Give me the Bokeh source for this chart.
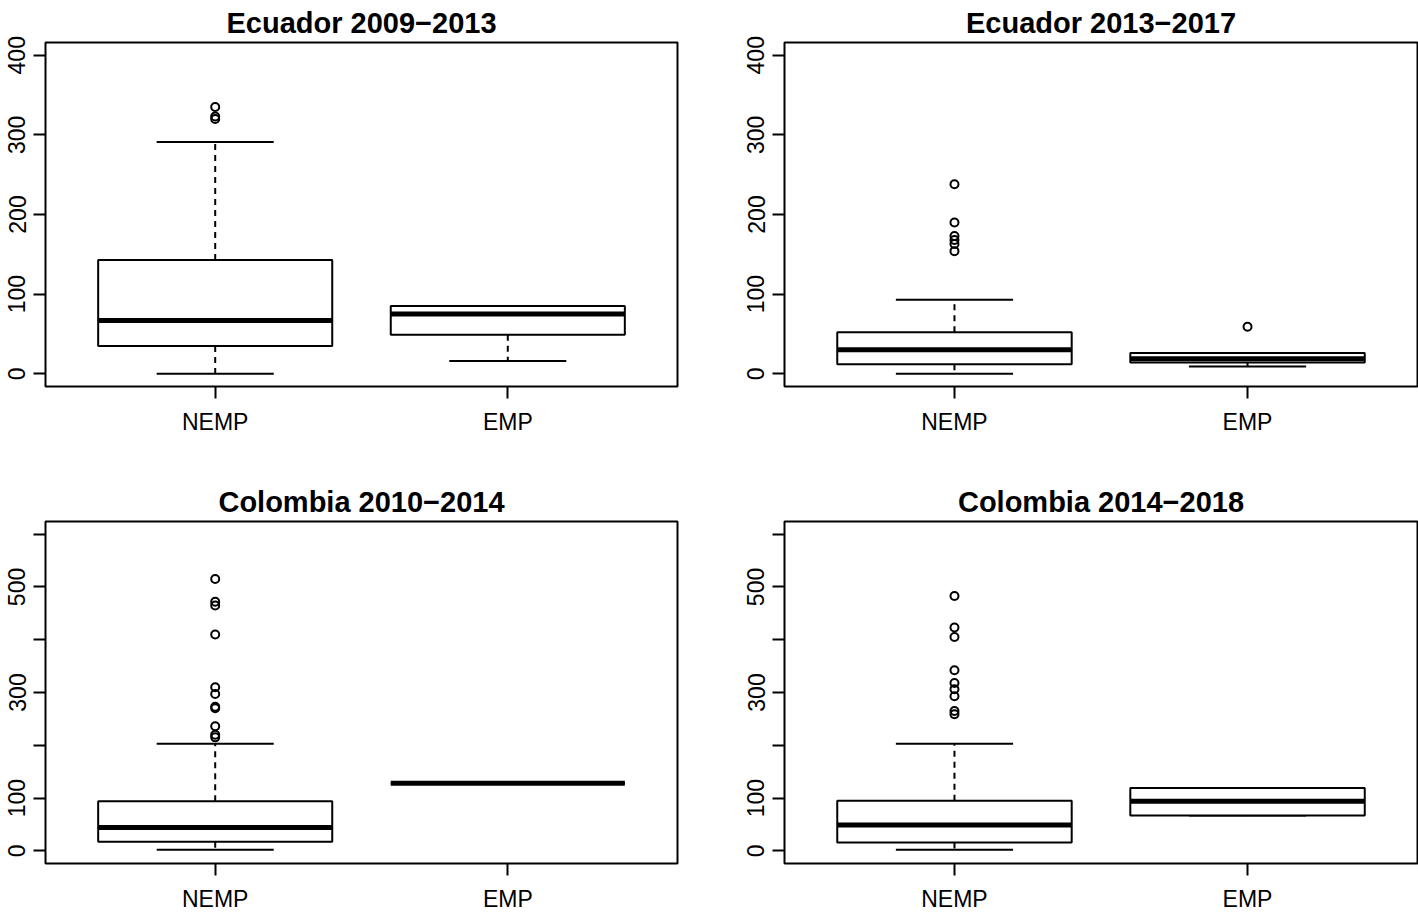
from bokeh.plotting import figure
from bokeh.layouts import column, row
from bokeh.models import FixedTicker
from bokeh.embed import file_html
from bokeh.resources import INLINE

# ---------------- data ----------------
groups = ["NEMP", "EMP"]
positions = [1, 2]

titles = ["Ecuador 2009\u22122013", "Ecuador 2013\u22122017",
          "Colombia 2010\u22122014", "Colombia 2014\u22122018"]

# per panel: [NEMP, EMP]
low_whisker = [[0, 16], [0, 9], [2, 128], [2, 67]]
q1 = [[35, 49], [12, 14], [17, 128], [16, 67]]
median = [[67, 75], [30, 19], [44, 128], [49, 94]]
q3 = [[143, 85], [52, 26], [94, 128], [95, 119]]
up_whisker = [[291, 85], [93, 26], [203, 128], [203, 119]]

outliers_nemp = [
    [320, 323, 335],
    [154, 163, 168, 173, 190, 238],
    [215, 220, 236, 270, 273, 297, 310, 410, 465, 472, 515],
    [259, 265, 293, 306, 318, 342, 405, 423, 483],
]
outliers_emp = [[], [59], [], []]

y_ticks_top = [0, 100, 200, 300, 400]
y_ticks_bottom = [0, 100, 200, 300, 400, 500, 600]
y_labels_bottom = ["0", "100", "", "300", "", "500", ""]
y_limits = [(-16, 416), (-16, 416), (-24, 624), (-24, 624)]

FONT = "Liberation Sans"


def make_panel(i, border_left, border_right, border_top, frame_w, frame_h, border_bottom):
    p = figure(
        frame_width=frame_w, frame_height=frame_h,
        x_range=(0.42, 2.58), y_range=y_limits[i],
        output_backend="svg", toolbar_location=None,
        min_border_left=border_left, min_border_right=border_right,
        min_border_top=border_top, min_border_bottom=border_bottom,
        background_fill_color="white", border_fill_color="white",
    )
    p.title.text = titles[i]
    p.title.align = "center"
    p.title.text_font = FONT
    p.title.text_font_size = "29px"
    p.title.text_font_style = "bold"
    p.title.text_color = "black"
    p.title.standoff = 8

    p.xgrid.visible = False
    p.ygrid.visible = False
    p.outline_line_color = "black"
    p.outline_line_width = 2
    p.outline_line_alpha = 1

    # axes
    p.xaxis.ticker = FixedTicker(ticks=positions)
    p.xaxis.major_label_overrides = {pos: g for pos, g in zip(positions, groups)}
    if i < 2:
        p.yaxis.ticker = FixedTicker(ticks=y_ticks_top)
    else:
        p.yaxis.ticker = FixedTicker(ticks=y_ticks_bottom)
        p.yaxis.major_label_overrides = {t: l for t, l in zip(y_ticks_bottom, y_labels_bottom)}
    p.yaxis.major_label_orientation = "vertical"
    for ax in (p.xaxis, p.yaxis):
        ax.axis_line_color = None
        ax.major_tick_out = 12
        ax.major_tick_in = 0
        ax.major_tick_line_width = 2
        ax.major_tick_line_color = "black"
        ax.minor_tick_line_color = None
        ax.major_label_text_font = FONT
        ax.major_label_text_font_size = "23px"
        ax.major_label_text_color = "black"
    p.xaxis.major_label_standoff = 10
    p.yaxis.major_label_standoff = 8

    lw = [low_whisker[i][k] for k in range(2)]
    b1 = [q1[i][k] for k in range(2)]
    md = [median[i][k] for k in range(2)]
    b3 = [q3[i][k] for k in range(2)]
    uw = [up_whisker[i][k] for k in range(2)]

    # whiskers (dashed)
    p.segment(x0=positions, y0=b3, x1=positions, y1=uw,
              line_color="black", line_width=2, line_dash="6 5")
    p.segment(x0=positions, y0=b1, x1=positions, y1=lw,
              line_color="black", line_width=2, line_dash="6 5")
    # staples
    cap_half = 0.2
    p.segment(x0=[x - cap_half for x in positions], y0=uw,
              x1=[x + cap_half for x in positions], y1=uw,
              line_color="black", line_width=2)
    p.segment(x0=[x - cap_half for x in positions], y0=lw,
              x1=[x + cap_half for x in positions], y1=lw,
              line_color="black", line_width=2)
    # boxes
    p.vbar(x=positions, width=0.8, bottom=b1, top=b3,
           fill_color="white", line_color="black", line_width=2)
    # medians
    p.segment(x0=[x - 0.4 for x in positions], y0=md,
              x1=[x + 0.4 for x in positions], y1=md,
              line_color="black", line_width=5)
    # outliers
    ox = [positions[0]] * len(outliers_nemp[i]) + [positions[1]] * len(outliers_emp[i])
    oy = outliers_nemp[i] + outliers_emp[i]
    if oy:
        p.scatter(x=ox, y=oy, marker="circle", size=8, fill_color=None,
                  line_color="black", line_width=2)
    return p


p1 = make_panel(0, 45, 47, 42, 632, 344, 48)
p2 = make_panel(1, 60, 1, 42, 633, 344, 48)
p3 = make_panel(2, 45, 47, 84, 632, 342, 48)
p4 = make_panel(3, 60, 1, 84, 633, 342, 48)

layout = column(row(p1, p2, spacing=0), row(p3, p4, spacing=0), spacing=0)

with open("out.html", "w") as f:
    f.write(file_html(layout, INLINE))
